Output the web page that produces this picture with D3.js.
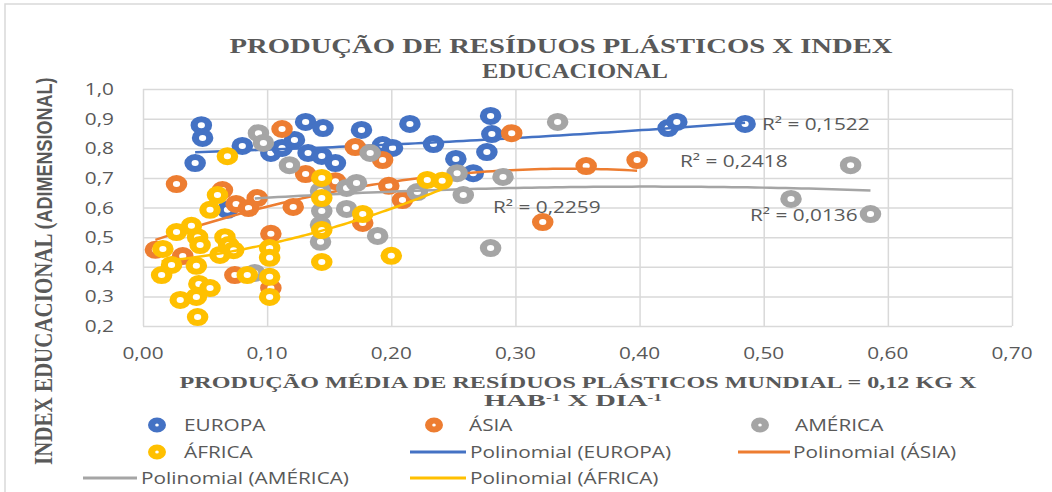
<!DOCTYPE html>
<html>
<head>
<meta charset="utf-8">
<script src="https://cdn.jsdelivr.net/npm/d3@7"></script>
<style>
  body { margin: 0; background: #fff; }
  svg { display: block; }
</style>
</head>
<body>
<svg id="chart" width="1052" height="492"></svg>
<script>
// ---- data: plastic waste per capita (kg/hab/day) vs education index ----
const europaX  = [0.047,0.048,0.042,0.080,0.103,0.112,0.122,0.131,0.145,0.133,0.144,0.155,0.176,0.193,0.201,0.215,0.234,0.252,0.266,0.277,0.280,0.281,0.423,0.430,0.485,0.068];
const europaY  = [0.878,0.835,0.750,0.808,0.784,0.801,0.828,0.889,0.868,0.784,0.774,0.750,0.862,0.811,0.801,0.882,0.814,0.764,0.716,0.787,0.909,0.848,0.868,0.889,0.882,0.592];
const asiaX    = [0.010,0.027,0.032,0.074,0.064,0.075,0.085,0.092,0.112,0.121,0.103,0.103,0.131,0.155,0.171,0.193,0.198,0.209,0.177,0.297,0.322,0.357,0.398];
const asiaY    = [0.457,0.679,0.436,0.372,0.659,0.612,0.598,0.632,0.865,0.602,0.511,0.328,0.713,0.689,0.804,0.760,0.673,0.625,0.548,0.851,0.551,0.740,0.760];
const americaX = [0.093,0.097,0.118,0.090,0.143,0.144,0.143,0.143,0.164,0.164,0.172,0.183,0.189,0.221,0.253,0.258,0.290,0.280,0.334,0.522,0.570,0.586];
const americaY = [0.851,0.818,0.743,0.379,0.656,0.588,0.541,0.484,0.595,0.666,0.683,0.784,0.504,0.652,0.716,0.642,0.703,0.463,0.889,0.629,0.743,0.578];
const africaX  = [0.015,0.016,0.023,0.027,0.030,0.039,0.043,0.044,0.046,0.043,0.045,0.054,0.044,0.054,0.060,0.066,0.069,0.062,0.073,0.084,0.102,0.102,0.102,0.102,0.144,0.144,0.144,0.144,0.177,0.200,0.229,0.241,0.068];
const africaY  = [0.372,0.460,0.406,0.517,0.288,0.538,0.403,0.500,0.473,0.298,0.342,0.328,0.230,0.592,0.642,0.500,0.473,0.440,0.456,0.372,0.463,0.430,0.366,0.298,0.700,0.632,0.524,0.416,0.578,0.437,0.693,0.690,0.773];

const seriesNames = ["EUROPA", "ÁSIA", "AMÉRICA", "ÁFRICA"];
const seriesColors = ["#4472C4", "#ED7D31", "#A5A5A5", "#FFC000"];
const r2Labels = ["R² = 0,1522", "R² = 0,2418", "R² = 0,0136", "R² = 0,2259"];
const xTicks = [0, 0.1, 0.2, 0.3, 0.4, 0.5, 0.6, 0.7];
const yTicks = [0.2, 0.3, 0.4, 0.5, 0.6, 0.7, 0.8, 0.9, 1.0];

const series = [
  { xs: europaX,  ys: europaY },
  { xs: asiaX,    ys: asiaY },
  { xs: americaX, ys: americaY },
  { xs: africaX,  ys: africaY }
].map((s, i) => ({
  name: seriesNames[i],
  color: seriesColors[i],
  r2: r2Labels[i],
  points: s.xs.map((x, j) => ({ x, y: s.ys[j] }))
}));

// ---- layout ----
const plot = { left: 143, right: 1012, top: 89, bottom: 326 };
const SX = 1.3;    // horizontal stretch of lettering
const MSX = 1.2;   // horizontal stretch of the ring markers
const textGrey = "#595959";
const gridGrey = "#D9D9D9";
const sans = "'Open Sans', 'Noto Sans', sans-serif";
const serif = "'Liberation Serif', 'DejaVu Serif', serif";

const svg = d3.select("#chart");
const x = d3.scaleLinear().domain([0, 0.7]).range([plot.left, plot.right]);
const y = d3.scaleLinear().domain([0.2, 1.0]).range([plot.bottom, plot.top]);
const ptBR = d3.formatLocale({ decimal: ",", thousands: ".", grouping: [3], currency: ["R$", ""] });
const fx = ptBR.format(".2f"), fy = ptBR.format(".1f");

// outer chart frame
svg.append("rect").attr("x", 5).attr("y", 4).attr("width", 1200).attr("height", 700)
  .attr("fill", "#fff").attr("stroke", gridGrey).attr("stroke-width", 1.5);

function stretchedText(parent, px, py, str, o = {}) {
  const t = parent.append("text")
    .attr("transform", `translate(${px},${py}) scale(${o.sx || SX},1)${o.rotate ? " rotate(" + o.rotate + ")" : ""}`)
    .attr("text-anchor", o.anchor || "start")
    .attr("font-family", o.family || sans)
    .attr("font-size", o.size || 16)
    .attr("font-weight", o.weight || "normal")
    .attr("fill", o.fill || textGrey);
  if (o.width) t.attr("textLength", o.width / (o.sx || SX)).attr("lengthAdjust", "spacingAndGlyphs");
  if (str != null) t.text(str);
  return t;
}

// ---- gridlines via axes ----
const gx = svg.append("g").attr("transform", `translate(0,${plot.bottom})`)
  .call(d3.axisBottom(x).tickValues(xTicks).tickSize(-(plot.bottom - plot.top)).tickFormat(""));
const gy = svg.append("g").attr("transform", `translate(${plot.left},0)`)
  .call(d3.axisLeft(y).tickValues(yTicks).tickSize(-(plot.right - plot.left)).tickFormat(""));
[gx, gy].forEach(g => {
  g.select(".domain").remove();
  g.selectAll("line").attr("stroke", gridGrey).attr("stroke-width", 1.5);
});

// tick labels
xTicks.forEach(v => stretchedText(svg, x(v), 359, fx(v), { anchor: "middle", size: 16 }));
yTicks.forEach(v => stretchedText(svg, 114, y(v) + 6, fy(v), { anchor: "end", size: 16 }));

// ---- quadratic least-squares trend ----
function polyFit2(pts) {
  const S = [0, 0, 0, 0, 0], T = [0, 0, 0];
  pts.forEach(p => {
    let pw = 1;
    for (let k = 0; k < 5; k++) { S[k] += pw; if (k < 3) T[k] += pw * p.y; pw *= p.x; }
  });
  const M = [[S[0], S[1], S[2], T[0]], [S[1], S[2], S[3], T[1]], [S[2], S[3], S[4], T[2]]];
  for (let c = 0; c < 3; c++) {
    let piv = c;
    for (let r = c + 1; r < 3; r++) if (Math.abs(M[r][c]) > Math.abs(M[piv][c])) piv = r;
    [M[c], M[piv]] = [M[piv], M[c]];
    for (let r = 0; r < 3; r++) {
      if (r === c) continue;
      const f = M[r][c] / M[c][c];
      for (let k = c; k < 4; k++) M[r][k] -= f * M[c][k];
    }
  }
  const a = M[0][3] / M[0][0], b = M[1][3] / M[1][1], c2 = M[2][3] / M[2][2];
  return v => a + b * v + c2 * v * v;
}

const line = d3.line().x(d => x(d.x)).y(d => y(d.y));
const ring = (g, px, py, color, r, sw, msx) =>
  g.append("circle").attr("transform", `translate(${px},${py}) scale(${msx},1)`)
    .attr("r", r).attr("fill", "#fff").attr("stroke", color).attr("stroke-width", sw);

const marks = svg.append("g");
series.forEach(s => {
  const g = marks.append("g");
  s.points.forEach(p => ring(g, x(p.x), y(p.y), s.color, 6, 6, MSX));
  const f = polyFit2(s.points);
  const [x0, x1] = d3.extent(s.points, p => p.x);
  const curve = d3.range(0, 81).map(i => { const v = x0 + (x1 - x0) * i / 80; return { x: v, y: f(v) }; });
  g.append("path").attr("d", line(curve)).attr("fill", "none")
    .attr("stroke", s.color).attr("stroke-width", 2.5);
});

// R² labels
const r2Pos = [[762, 130], [680, 167], [750, 221], [493, 213]];
series.forEach((s, i) => stretchedText(svg, r2Pos[i][0], r2Pos[i][1], s.r2, { size: 16 }));

// ---- titles ----
const titleStyle = { anchor: "middle", family: serif, weight: "bold", size: 22, fill: textGrey };
stretchedText(svg, 561, 53, "PRODUÇÃO DE RESÍDUOS PLÁSTICOS X INDEX", { ...titleStyle, width: 663 });
stretchedText(svg, 575, 78, "EDUCACIONAL", { ...titleStyle, width: 186 });

const axisTitleStyle = { anchor: "middle", family: serif, weight: "bold", size: 16.5, fill: textGrey };
stretchedText(svg, 578, 387.5, "PRODUÇÃO MÉDIA DE RESÍDUOS PLÁSTICOS MUNDIAL = 0,12 KG X", { ...axisTitleStyle, width: 797 });
const xt2 = stretchedText(svg, 573, 406, null, { ...axisTitleStyle, width: 178 });
xt2.append("tspan").text("HAB");
xt2.append("tspan").attr("font-size", 10).attr("dy", -5).text("-1");
xt2.append("tspan").attr("dy", 5).text(" X DIA");
xt2.append("tspan").attr("font-size", 10).attr("dy", -5).text("-1");

const yt = stretchedText(svg, 52, 465, null, { sx: 1.2, rotate: -90, family: serif, weight: "bold", size: 21, fill: textGrey });
yt.append("tspan").text("INDEX EDUCACIONAL (");
yt.append("tspan").attr("font-family", "'Liberation Sans', Arial, sans-serif").attr("font-size", 18).text("ADIMENSIONAL)");

// ---- legend ----
const legend = svg.append("g");
const legendItems = [
  { kind: "marker", s: 0, mx: 157, ty: 425, tx: 184 },
  { kind: "marker", s: 1, mx: 434, ty: 425, tx: 469 },
  { kind: "marker", s: 2, mx: 760, ty: 425, tx: 795 },
  { kind: "marker", s: 3, mx: 157, ty: 452, tx: 184 },
  { kind: "line", s: 0, lx: [410, 466], ty: 452, tx: 470 },
  { kind: "line", s: 1, lx: [738, 790], ty: 452, tx: 793 },
  { kind: "line", s: 2, lx: [83, 137], ty: 478, tx: 141 },
  { kind: "line", s: 3, lx: [410, 466], ty: 478, tx: 470 }
];
legendItems.forEach(it => {
  const s = series[it.s];
  if (it.kind === "marker") {
    ring(legend, it.mx, it.ty, s.color, 4.5, 6, MSX);
    stretchedText(legend, it.tx, it.ty + 6, s.name, { size: 16 });
  } else {
    legend.append("line").attr("x1", it.lx[0]).attr("x2", it.lx[1]).attr("y1", it.ty).attr("y2", it.ty)
      .attr("stroke", s.color).attr("stroke-width", 3);
    stretchedText(legend, it.tx, it.ty + 6, `Polinomial (${s.name})`, { size: 16 });
  }
});
</script>
</body>
</html>
